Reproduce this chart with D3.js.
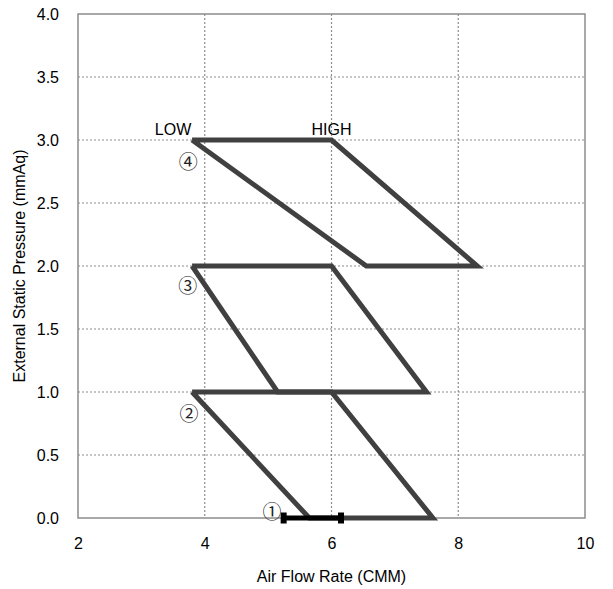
<!DOCTYPE html>
<html><head><meta charset="utf-8">
<script src="https://cdn.jsdelivr.net/npm/d3@7"></script>
<style>body{margin:0;background:#fff;} text{font-family:"Liberation Sans",Arial,sans-serif;}</style>
</head><body><svg id="c" width="613" height="589"></svg>
<script>
const xTicks = [2, 4, 6, 8, 10];
const yTicks = [0, 0.5, 1, 1.5, 2, 2.5, 3, 3.5, 4];
// Operating ranges (closed parallelograms): [flow, pressure]
const range4 = [[3.8, 3.0], [6.0, 3.0], [8.3, 2.0], [6.55, 2.0], [3.8, 3.0]];
const range3 = [[3.8, 2.0], [6.0, 2.0], [7.5, 1.0], [5.15, 1.0], [3.8, 2.0]];
const range2 = [[3.8, 1.0], [6.0, 1.0], [7.6, 0.0], [5.65, 0.0], [3.8, 1.0]];
const range1 = [[5.245, 0.0], [6.15, 0.0]];
const rangeLabels = ["①", "②", "③", "④"];
const labelPos = [[5.06, 0.063], [3.75, 0.84], [3.73, 1.85], [3.74, 2.84]];
const speedLabels = ["LOW", "HIGH"];
const speedPos = [[3.5, 3.04], [6.0, 3.04]];

const svg = d3.select("#c");
const m = {l: 78, r: 585, t: 14, b: 518};
const x = d3.scaleLinear().domain([2, 10]).range([m.l, m.r]);
const y = d3.scaleLinear().domain([0, 4]).range([m.b, m.t]);
const FS = 16;

// grid
const g = svg.append("g");
g.selectAll("line.gx").data(xTicks.slice(1, -1)).enter().append("line")
  .attr("x1", d => x(d)).attr("x2", d => x(d)).attr("y1", m.t).attr("y2", m.b)
  .attr("stroke", "#8c8c8c").attr("stroke-width", 1.2).attr("stroke-dasharray", "2,2");
g.selectAll("line.gy").data(yTicks.slice(1, -1)).enter().append("line")
  .attr("y1", d => y(d)).attr("y2", d => y(d)).attr("x1", m.l).attr("x2", m.r)
  .attr("stroke", "#8c8c8c").attr("stroke-width", 1.2).attr("stroke-dasharray", "2,2");
svg.append("rect").attr("x", m.l).attr("y", m.t).attr("width", m.r - m.l).attr("height", m.b - m.t)
  .attr("fill", "none").attr("stroke", "#8c8c8c").attr("stroke-width", 1.5);

// axes
const xa = svg.append("g").attr("transform", `translate(0,${m.b})`)
  .call(d3.axisBottom(x).tickValues(xTicks).tickFormat(d3.format("d")).tickSize(0).tickPadding(20));
xa.select(".domain").remove();
xa.selectAll("text").attr("font-size", FS).attr("fill", "#000").style("font-family", "Liberation Sans, Arial, sans-serif");
const ya = svg.append("g").attr("transform", `translate(${m.l},0)`)
  .call(d3.axisLeft(y).tickValues(yTicks).tickFormat(d3.format(".1f")).tickSize(0).tickPadding(19));
ya.select(".domain").remove();
ya.selectAll("text").attr("font-size", FS).attr("fill", "#000").style("font-family", "Liberation Sans, Arial, sans-serif");

svg.append("text").attr("x", (m.l + m.r) / 2).attr("y", 582).attr("text-anchor", "middle")
  .attr("font-size", FS).text("Air Flow Rate (CMM)");
svg.append("text").attr("transform", `translate(25,${(m.t + m.b) / 2}) rotate(-90)`).attr("text-anchor", "middle")
  .attr("font-size", FS).text("External Static Pressure (mmAq)");

// ranges
const line = d3.line().x(d => x(d[0])).y(d => y(d[1]));
[range4, range3, range2].forEach(r => {
  svg.append("path").attr("d", line(r)).attr("fill", "none").attr("stroke", "#404040")
    .attr("stroke-width", 5).attr("stroke-linejoin", "miter");
});
svg.append("path").attr("d", line(range1)).attr("stroke", "#000").attr("stroke-width", 5);
svg.selectAll("rect.cap").data(range1).enter().append("rect")
  .attr("x", d => x(d[0]) - 3).attr("y", d => y(d[1]) - 5.5).attr("width", 6).attr("height", 11).attr("fill", "#000");

svg.selectAll("text.rl").data(rangeLabels).enter().append("text")
  .attr("x", (d, i) => x(labelPos[i][0])).attr("y", (d, i) => y(labelPos[i][1]))
  .attr("text-anchor", "middle").attr("dominant-baseline", "central").attr("font-size", 19).attr("fill", "#222")
  .style("font-family", "'Noto Sans CJK JP', sans-serif").text(d => d);
svg.selectAll("text.sl").data(speedLabels).enter().append("text")
  .attr("x", (d, i) => x(speedPos[i][0])).attr("y", (d, i) => y(speedPos[i][1]))
  .attr("text-anchor", "middle").attr("font-size", FS).attr("fill", "#000").text(d => d);
</script></body></html>
